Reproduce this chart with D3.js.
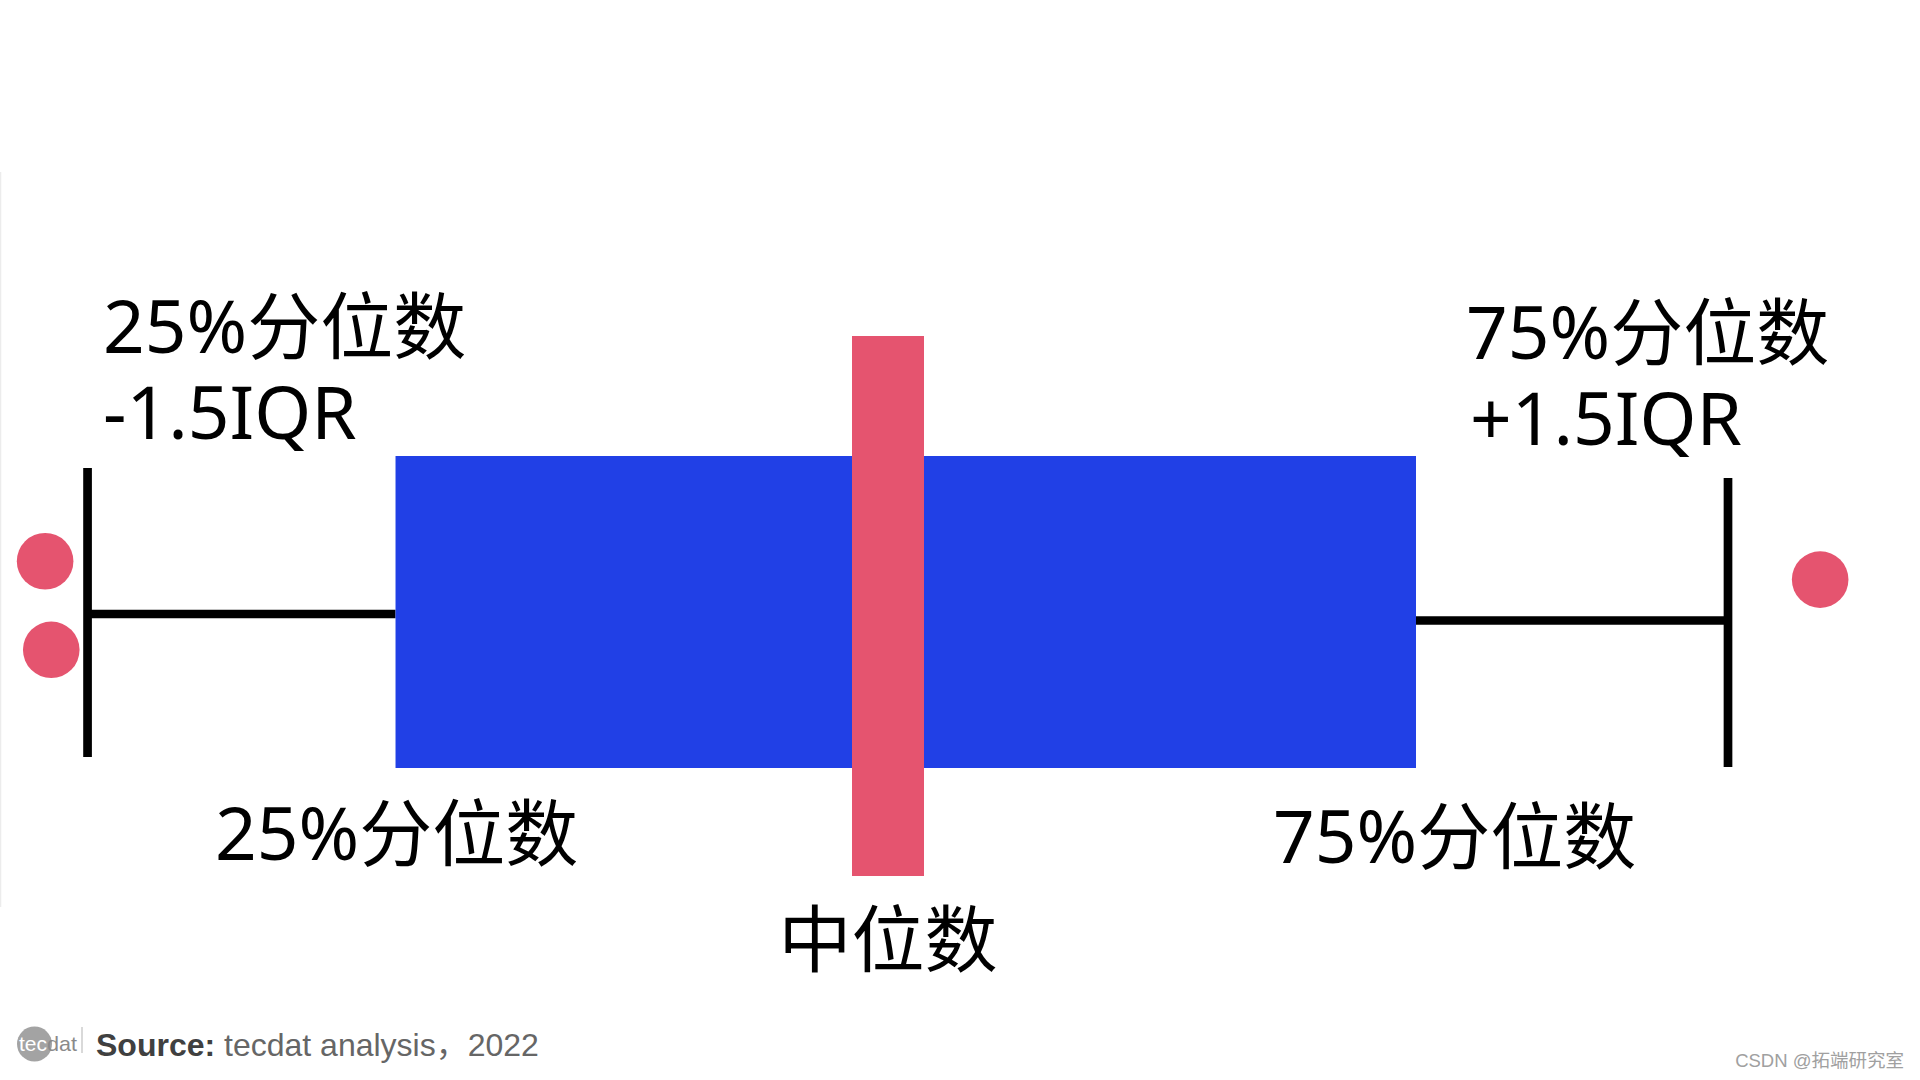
<!DOCTYPE html>
<html lang="zh-CN">
<head>
<meta charset="utf-8">
<script src="https://cdn.jsdelivr.net/npm/d3@7"></script>
<style>
  html, body { margin: 0; padding: 0; background: #ffffff; }
  svg { display: block; }
</style>
</head>
<body>
<svg id="chart" width="1920" height="1080"></svg>
<script>
// ---- data (value units on a 0–100 horizontal scale) ----
const whiskerLow = 4.56;
const q1 = 20.6;
const median = 46.25;
const q3 = 73.75;
const whiskerHigh = 90;
const outlierValues = [2.35, 2.67, 94.8];
const outlierJitter = [-4.7, 3.5, -3.0];   // vertical jitter, units
const labelsTopLeft = ["25%分位数", "-1.5IQR"];
const labelsTopRight = ["75%分位数", "+1.5IQR"];
const labelQ1 = "25%分位数";
const labelQ3 = "75%分位数";
const labelMedian = "中位数";
const sourceBold = "Source:";
const sourceText = " tecdat analysis，2022";
const watermark = "CSDN @拓端研究室";

// ---- layout / style ----
const W = 1920, H = 1080;
const svg = d3.select("#chart");
const x = d3.scaleLinear().domain([0, 100]).range([0, W]);
const yc = d3.scaleLinear().domain([0, 10]).range([612, 720]);

const BLUE = "#2140E6";
const RED = "#E5546F";
const labelFont = "'Noto Sans', 'Noto Sans CJK SC', sans-serif";
const labelSize = 73;

// faint left border
svg.append("line")
  .attr("x1", 0.5).attr("x2", 0.5).attr("y1", 172).attr("y2", 907)
  .attr("stroke", "#ececec").attr("stroke-width", 1.5);

// whisker horizontal lines
svg.append("line")
  .attr("x1", x(whiskerLow)).attr("x2", x(q1))
  .attr("y1", 614).attr("y2", 614)
  .attr("stroke", "#000").attr("stroke-width", 8.5);
svg.append("line")
  .attr("x1", x(q3)).attr("x2", x(whiskerHigh))
  .attr("y1", 620.5).attr("y2", 620.5)
  .attr("stroke", "#000").attr("stroke-width", 8.5);

// whisker caps
svg.append("line")
  .attr("x1", x(whiskerLow)).attr("x2", x(whiskerLow))
  .attr("y1", 468).attr("y2", 757)
  .attr("stroke", "#000").attr("stroke-width", 8.7);
svg.append("line")
  .attr("x1", x(whiskerHigh)).attr("x2", x(whiskerHigh))
  .attr("y1", 478).attr("y2", 767)
  .attr("stroke", "#000").attr("stroke-width", 8.7);

// box (IQR)
svg.append("rect")
  .attr("x", x(q1)).attr("y", 456)
  .attr("width", x(q3) - x(q1)).attr("height", 768 - 456)
  .attr("fill", BLUE);

// median bar
const medW = 72;
svg.append("rect")
  .attr("x", x(median) - medW / 2).attr("y", 336)
  .attr("width", medW).attr("height", 876 - 336)
  .attr("fill", RED);

// outliers
svg.selectAll("circle.outlier")
  .data(outlierValues)
  .enter().append("circle")
  .attr("class", "outlier")
  .attr("cx", d => x(d))
  .attr("cy", (d, i) => yc(outlierJitter[i]))
  .attr("r", 28.3)
  .attr("fill", RED);

// labels
function label(txt, lx, ly, anchor) {
  return svg.append("text")
    .attr("x", lx).attr("y", ly)
    .attr("text-anchor", anchor || "start")
    .attr("font-family", labelFont)
    .attr("font-size", labelSize)
    .attr("fill", "#000")
    .text(txt);
}
function label2(lines, lx, ly, dx2, lineGap) {
  const t = svg.append("text")
    .attr("font-family", labelFont)
    .attr("font-size", labelSize)
    .attr("fill", "#000");
  t.append("tspan").attr("x", lx).attr("y", ly).text(lines[0]);
  t.append("tspan").attr("x", lx + dx2).attr("y", ly + lineGap).text(lines[1]);
  return t;
}
label2(labelsTopLeft, 103, 353, 0, 86);
label2(labelsTopRight, 1466, 359, 4, 86);
label(labelQ1, 215, 860);
label(labelQ3, 1273, 863);
label(labelMedian, x(median), 966, "middle");

// footer logo
svg.append("circle").attr("cx", 34.5).attr("cy", 1044).attr("r", 17.5).attr("fill", "#a3a3a3");
const logo = svg.append("text")
  .attr("x", 19).attr("y", 1051)
  .attr("font-family", "'Liberation Sans', Arial, sans-serif")
  .attr("font-size", 21);
logo.append("tspan").attr("fill", "#ffffff").attr("textLength", 28).attr("lengthAdjust", "spacingAndGlyphs").text("tec");
logo.append("tspan").attr("fill", "#8a8a8a").attr("textLength", 30).attr("lengthAdjust", "spacingAndGlyphs").text("dat");
svg.append("line")
  .attr("x1", 82).attr("x2", 82).attr("y1", 1027).attr("y2", 1053)
  .attr("stroke", "#cccccc").attr("stroke-width", 1.5);

const src = svg.append("text")
  .attr("x", 96).attr("y", 1056)
  .attr("font-family", "'Liberation Sans', Arial, 'Noto Sans CJK SC', sans-serif")
  .attr("font-size", 32);
src.append("tspan").attr("font-weight", "bold").attr("fill", "#404040").text(sourceBold);
src.append("tspan").attr("fill", "#666666").text(sourceText);

// watermark
svg.append("text")
  .attr("x", 1904).attr("y", 1067)
  .attr("text-anchor", "end")
  .attr("font-family", "'Liberation Sans', 'Noto Sans CJK SC', sans-serif")
  .attr("font-size", 18.5)
  .attr("fill", "#a0a0a0")
  .text(watermark);
</script>
</body>
</html>
